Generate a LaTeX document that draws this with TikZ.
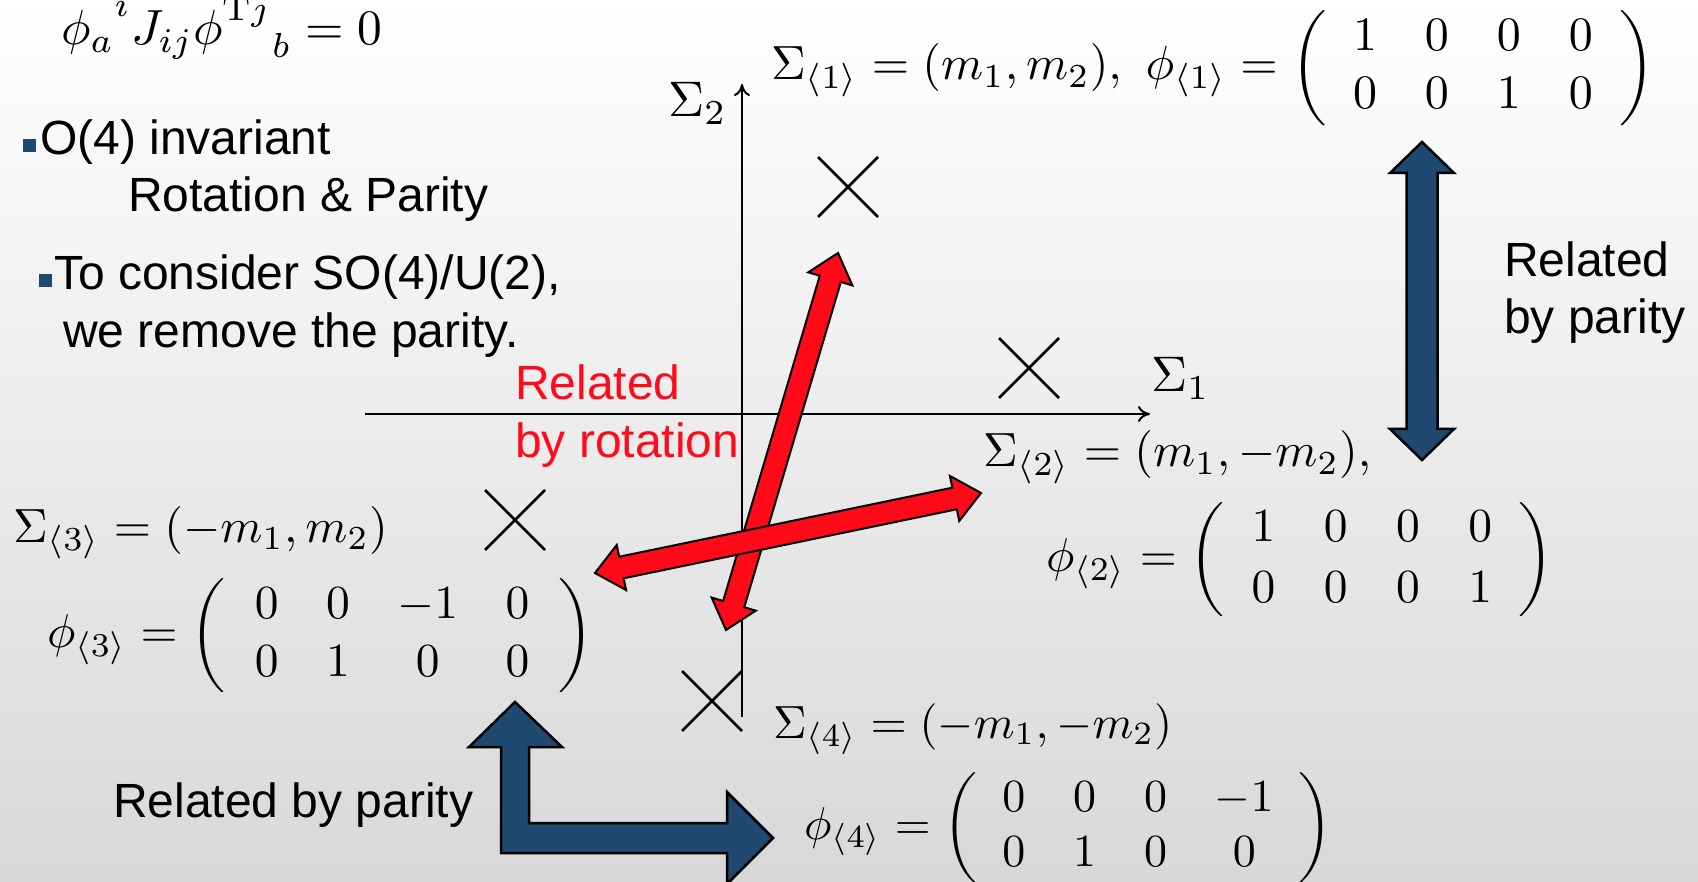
\documentclass[tikz,border=0pt]{standalone}
\usepackage{amsmath}
\usepackage{graphicx}
\usepackage{fontspec}
\setsansfont{Liberation Sans}
\usetikzlibrary{calc,arrows.meta}
\definecolor{pblue}{RGB}{31,73,112}
\definecolor{pred}{RGB}{255,10,25}
\definecolor{bggray}{RGB}{216,216,216}
% matrix: #1 inner gap (mu), #2 column sep (pt), #3 entries
\newcommand\mtx[3]{\left(\mkern#1mu\setlength\arraycolsep{#2pt}\begin{array}{cccc}#3\end{array}\mkern#1mu\right)}
% scaled math: #1 scale, #2 baselineskip, #3 formula
\newcommand\MM[3]{\scalebox{#1}{\fontsize{10}{#2}\selectfont$#3$}}
\newcommand\dblarr[6]{%
 \coordinate (da1) at ($(#2)!#6!(#3)$);
 \coordinate (da2) at ($(#3)!#6!(#2)$);
 \draw[#1] (#2) -- ($(da1)!#5!90:(#2)$) -- ($(da1)!#4!90:(#2)$) -- ($(da2)!#4!-90:(#3)$) -- ($(da2)!#5!-90:(#3)$) -- (#3) -- ($(da2)!#5!90:(#3)$) -- ($(da2)!#4!90:(#3)$) -- ($(da1)!#4!-90:(#2)$) -- ($(da1)!#5!-90:(#2)$) -- cycle;}
\tikzset{
 txt/.style={font=\sffamily\fontsize{48}{57}\selectfont, inner sep=0pt, anchor=base west},
 rtxt/.style={txt, text=pred},
 mth/.style={inner sep=0pt},
 axisline/.style={line width=2pt, -{To[length=12pt,width=16pt]}},
 crossline/.style={line width=2.5pt},
 redarr/.style={fill=pred, draw=black, line width=2pt, line join=miter},
 bluearr/.style={fill=pblue, draw=black, line width=2.5pt, line join=miter},
 bulletsq/.style={fill=pblue, inner sep=0pt, minimum size=13pt}
}
\begin{document}
\begin{tikzpicture}[x=1pt,y=-1pt]
\useasboundingbox (0,0) rectangle (1698,882);
\shade[top color=white, bottom color=bggray] (0,0) rectangle (1698,882);

% top formula
\node[mth, anchor=base west] (form) at (61,45)
  {\MM{4.95}{12}{{\phi_a}^{\raisebox{1.3pt}{$\scriptstyle i$}} J_{ij} {\phi^{\raisebox{1.3pt}{$\scriptstyle \mathrm{T}j$}}}_{b} = 0}};

% bullets
\node[bulletsq] (b1) at (29,146) {};
\node[txt] (t1) at (40,155) {O(4) invariant};
\node[txt] (t2) at (128,212) {Rotation \& Parity};
\node[bulletsq] (b2) at (45,281) {};
\node[txt] (t3) at (54,290) {To consider SO(4)/U(2),};
\node[txt] (t4) at (63,348) {we remove the parity.};

% axes
\coordinate (hx0) at (365,414);
\coordinate (hx1) at (1150,414);
\coordinate (vy0) at (742,717);
\coordinate (vy1) at (742,84);
\draw[axisline] (hx0) -- (hx1);
\draw[axisline] (vy0) -- (vy1);
\node[mth, anchor=base west] (sig2) at (668,117) {\MM{5}{12}{\Sigma_2}};
\node[mth, anchor=base west] (sig1) at (1151,392) {\MM{5}{12}{\Sigma_1}};

% crosses
\coordinate (c1) at (848,187);
\coordinate (c2) at (1029,368);
\coordinate (c3) at (515,520);
\coordinate (c4) at (712,701);
\foreach \c in {c1,c2,c3,c4}{
  \draw[crossline] ($(\c)+(-30,-30)$) -- ($(\c)+(30,30)$);
  \draw[crossline] ($(\c)+(-30,30)$) -- ($(\c)+(30,-30)$);
}

% math labels
\node[mth, anchor=west] (s1) at (771,68)
  {\MM{4.8}{12.1}{\Sigma_{\langle 1\rangle} = (m_1, m_2),\ \phi_{\langle 1\rangle} = \mtx{1}{5}{1&0&0&0\\0&0&1&0}}};
\node[mth, anchor=base west] (s2) at (983,467) {\MM{4.8}{12}{\Sigma_{\langle 2\rangle} = (m_1, -m_2),}};
\node[mth, anchor=west] (p2) at (1046,560) {\MM{4.75}{12.8}{\phi_{\langle 2\rangle} = \mtx{1}{5.1}{1&0&0&0\\0&0&0&1}}};
\node[mth, anchor=base west] (s3) at (13,542) {\MM{4.8}{12}{\Sigma_{\langle 3\rangle} = (-m_1, m_2)}};
\node[mth, anchor=west] (p3) at (47,636) {\MM{4.75}{12.2}{\phi_{\langle 3\rangle} = \mtx{2}{5}{0&0&-1&0\\0&1&0&0}}};
\node[mth, anchor=base west] (s4) at (773,738) {\MM{4.65}{12}{\Sigma_{\langle 4\rangle} = (-m_1, -m_2)}};
\node[mth, anchor=west] (p4) at (804,828) {\MM{4.6}{12}{\phi_{\langle 4\rangle} = \mtx{0.5}{5.2}{0&0&0&-1\\0&1&0&0}}};

% red arrows
\coordinate (ra1) at (726,630);
\coordinate (ra2) at (838,253);
\coordinate (rb1) at (595,573);
\coordinate (rb2) at (981,493);
\dblarr{redarr}{ra1}{ra2}{11pt}{23pt}{27pt}
\dblarr{redarr}{rb1}{rb2}{11pt}{23pt}{27pt}
\node[rtxt] (rel1) at (515,400) {Related};
\node[rtxt] (rel2) at (515,457) {by rotation};

% blue vertical double arrow
\coordinate (bv1) at (1422,142);
\coordinate (bv2) at (1422,460);
\dblarr{bluearr}{bv1}{bv2}{15.5pt}{32pt}{31pt}
\node[txt] (par1) at (1504,277) {Related};
\node[txt] (par2) at (1504,334) {by parity};

% blue L arrow
\coordinate (lup) at (515,702);
\coordinate (lrt) at (773,838);
\draw[bluearr] (lup) -- (562,747) -- (529,747) -- (529,823) -- (727,823) -- (727,792)
  -- (lrt) -- (727,884) -- (727,853) -- (501,853) -- (501,747) -- (469,747) -- cycle;
\node[txt] (par3) at (113,817) {Related by parity};
\end{tikzpicture}
\end{document}
